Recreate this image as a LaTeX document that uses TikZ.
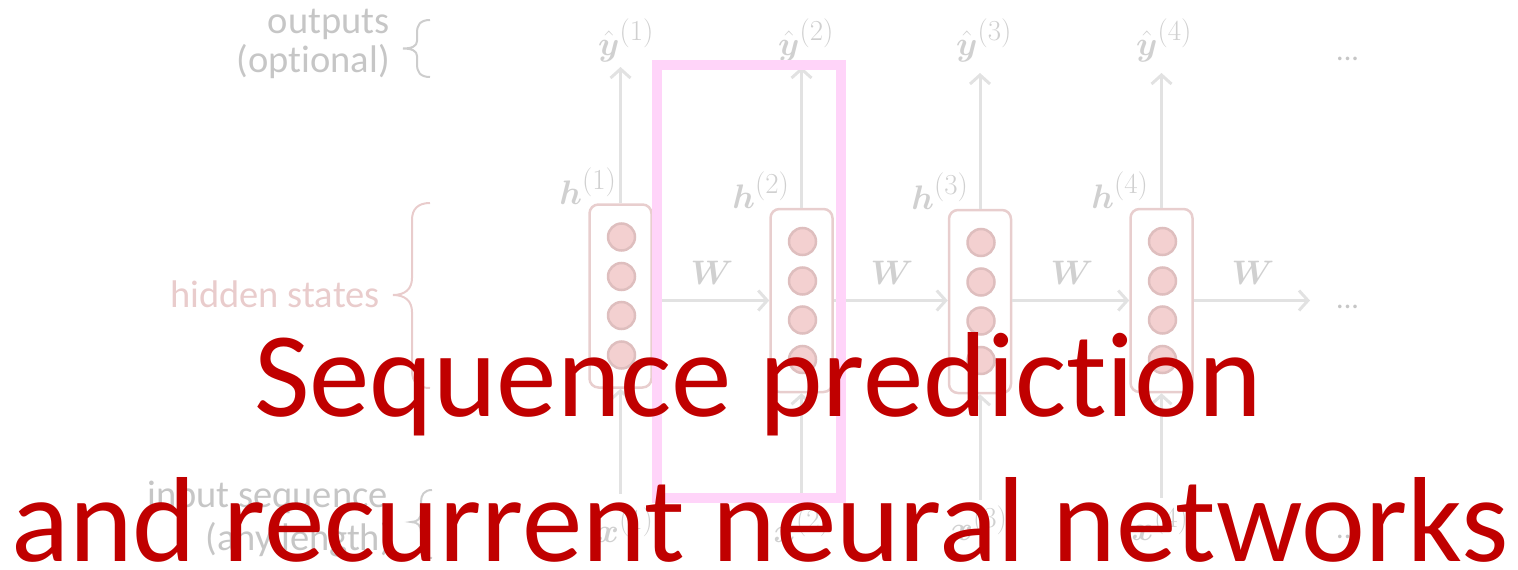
\RequirePackage{fix-cm}
\documentclass[tikz,border=0pt]{standalone}
\usepackage{amsmath}
\usepackage{fontspec}
\setmainfont{Carlito}[Ligatures=NoCommon]
\newcommand{\supx}[1]{^{\mbox{\fontsize{29}{29}\selectfont$(#1)$}}}
\usetikzlibrary{arrows.meta,calc}
\definecolor{lblgray}{RGB}{198,198,198}
\definecolor{mathgray}{RGB}{208,208,208}
\definecolor{arrgray}{RGB}{226,226,226}
\definecolor{bracegray}{RGB}{205,205,205}
\definecolor{hidcol}{RGB}{233,204,204}
\definecolor{boxcol}{RGB}{232,206,206}
\definecolor{unitfill}{RGB}{243,208,208}
\definecolor{unitdraw}{RGB}{222,190,190}
\definecolor{pinkc}{RGB}{255,212,249}
\definecolor{titlered}{RGB}{192,0,0}
\begin{document}
\begin{tikzpicture}[x=1pt,y=-1pt,
  lbl/.style={text=lblgray,font=\fontsize{38.5}{40}\selectfont,inner sep=0pt},
  hidlbl/.style={text=hidcol,font=\fontsize{38.5}{40}\selectfont,inner sep=0pt},
  mlbl/.style={text=mathgray,font=\fontsize{34}{40}\selectfont,inner sep=0pt},
  dotlbl/.style={text=lblgray,font=\fontsize{30}{32}\selectfont,inner sep=0pt,anchor=base west},
  hbox/.style={draw=boxcol,line width=2.5pt,rounded corners=9pt,minimum width=62pt,minimum height=183pt,inner sep=0pt},
  unit/.style={circle,draw=unitdraw,fill=unitfill,line width=2.5pt,minimum size=27pt,inner sep=0pt},
  conn/.style={draw=arrgray,line width=3pt,-{Straight Barb[length=9pt,width=20pt]}},
  brc/.style={line width=2pt},
  titletext/.style={text=titlered,font=\fontsize{121}{144}\selectfont,inner sep=0pt,anchor=base},
  selbox/.style={draw=pinkc,line width=10pt,minimum width=184pt,minimum height=433pt,inner sep=0pt}
]
\useasboundingbox (0,0) rectangle (1518,570);

% side labels
\node[lbl,anchor=base east] (outA) at (390,33) {outputs};
\node[lbl,anchor=base east] (outB) at (390,72) {(optional)};
\node[hidlbl,anchor=base east] (hid) at (380,307) {hidden states};
\node[lbl,anchor=base east] (inA) at (388,507) {input sequence};
\node[lbl,anchor=base east] (inB) at (392,550) {(any length)};

% braces
\draw[brc,draw=bracegray] (430,20) .. controls (420,20) and (417,25) .. (417,33) -- (417,41)
  .. controls (417,46) and (412,48.5) .. (403,48.5) .. controls (412,48.5) and (417,51) .. (417,56)
  -- (417,64) .. controls (417,72) and (420,77) .. (430,77);
\draw[brc,draw=hidcol] (430,203) .. controls (418,203) and (412,209) .. (412,220) -- (412,278)
  .. controls (412,289) and (405,295) .. (393,295) .. controls (405,295) and (412,301) .. (412,312)
  -- (412,371) .. controls (412,382) and (418,388) .. (430,388);
\draw[brc,draw=bracegray] (432,490) .. controls (424,490) and (421,495) .. (421,502) -- (421,512)
  .. controls (421,518) and (418,522) .. (411,522) .. controls (418,522) and (421,526) .. (421,532)
  -- (421,546) .. controls (421,553) and (424,558) .. (432,558);

% hidden state boxes
\node[hbox] (h1) at (620.5,296) {};
\node[hbox] (h2) at (801.5,300.5) {};
\node[hbox] (h3) at (980,301.5) {};
\node[hbox] (h4) at (1161.5,300.5) {};
\foreach \i in {1,2,3,4}{
  \foreach \j/\o in {1/-59,2/-19.5,3/19.5,4/59}{
    \node[unit] (u\i\j) at ($(h\i)+(1,\o)$) {};
  }
}

% math labels
\node[mlbl] (yh1) at (626,40) {$\hat{\boldsymbol{y}}\supx{1}$};
\node[mlbl] (yh2) at (806,40) {$\hat{\boldsymbol{y}}\supx{2}$};
\node[mlbl] (yh3) at (984,40) {$\hat{\boldsymbol{y}}\supx{3}$};
\node[mlbl] (yh4) at (1164,40) {$\hat{\boldsymbol{y}}\supx{4}$};
\node[mlbl] (hl1) at (588,186) {$\boldsymbol{h}\supx{1}$};
\node[mlbl] (hl2) at (761,190) {$\boldsymbol{h}\supx{2}$};
\node[mlbl] (hl3) at (940,191) {$\boldsymbol{h}\supx{3}$};
\node[mlbl] (hl4) at (1120,190) {$\boldsymbol{h}\supx{4}$};
\node[mlbl] (w1) at (712,273) {$\boldsymbol{W}$};
\node[mlbl] (w2) at (892,273) {$\boldsymbol{W}$};
\node[mlbl] (w3) at (1072,273) {$\boldsymbol{W}$};
\node[mlbl] (w4) at (1253,273) {$\boldsymbol{W}$};
\node[mlbl] (x1) at (625,525) {$\boldsymbol{x}\supx{1}$};
\node[mlbl] (x2) at (802,525) {$\boldsymbol{x}\supx{2}$};
\node[mlbl] (x3) at (979,523) {$\boldsymbol{x}\supx{3}$};
\node[mlbl] (x4) at (1160,523) {$\boldsymbol{x}\supx{4}$};
\node[dotlbl] (dTop) at (1336,60) {...};
\node[dotlbl] (dMid) at (1336,308) {...};
\node[dotlbl] (dBot) at (1336,538) {...};

% connectors
\coordinate (t1) at (620.5,67);
\coordinate (t2) at (801.5,67);
\coordinate (t3) at (980,73);
\coordinate (t4) at (1161.5,73);
\coordinate (b1) at (620.5,494);
\coordinate (b2) at (801.5,494);
\coordinate (b3) at (980,500);
\coordinate (b4) at (1161.5,498);
\coordinate (wend) at (1310,300.5);
\foreach \i in {1,2,3,4}{
  \draw[conn] (h\i.north) -- (t\i);
  \draw[conn] (b\i) -- (h\i.south);
}
\draw[conn] (h1.east |- h2.west) -- (h2.west);
\draw[conn] (h2.east) -- (h3.west |- h2.east);
\draw[conn] (h3.east |- h2.east) -- (h4.west);
\draw[conn] (h4.east) -- (wend);

% highlight box
\node[selbox] (sel) at (749,281.5) {};

% title
\node[titletext] (title1) at (758,416) {Sequence prediction};
\node[titletext] (title2) at (760,561) {and recurrent neural networks};
\end{tikzpicture}
\end{document}
